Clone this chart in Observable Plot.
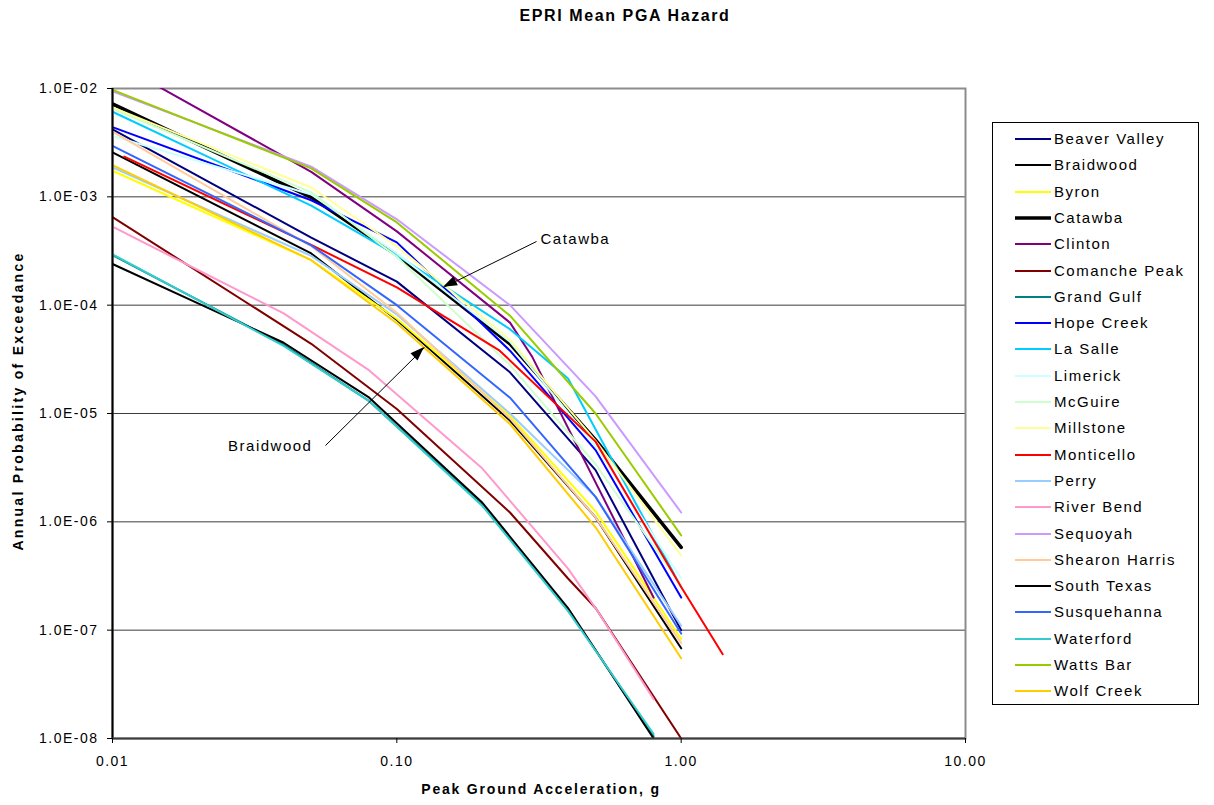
<!DOCTYPE html>
<html><head><meta charset="utf-8">
<script src="https://cdn.jsdelivr.net/npm/d3@7"></script>
<script src="https://cdn.jsdelivr.net/npm/@observablehq/plot@0.6"></script>
<style>
body{margin:0;background:#fff;font-family:"Liberation Sans",Arial,sans-serif;}
#wrap{position:relative;width:1214px;height:805px;overflow:hidden;background:#fff;}
#chart{position:absolute;left:0;top:0;}
.lbl{position:absolute;font-weight:bold;color:#000;white-space:nowrap;}
#title{left:0;width:1250px;top:7px;text-align:center;font-size:16px;letter-spacing:1.6px;}
#xlabel{left:0;width:1082px;top:781px;text-align:center;font-size:14px;letter-spacing:1.8px;}
#ylabel{left:18px;top:401px;font-size:14px;letter-spacing:2.3px;transform:translate(-50%,-50%) rotate(-90deg);}
#legend{position:absolute;left:992px;top:122px;width:207px;height:583px;border:1px solid #000;background:#fff;box-sizing:border-box;}
.item{position:absolute;left:0;height:20px;font-size:15px;letter-spacing:1.5px;color:#000;white-space:nowrap;}
.item svg{position:absolute;left:22px;top:0;}
.item span{position:absolute;left:61px;top:1px;line-height:18px;}
svg text{letter-spacing:1.5px;}
</style></head><body>
<div id="wrap">
<div id="chart"></div>
<div id="title" class="lbl">EPRI Mean PGA Hazard</div>
<div id="xlabel" class="lbl">Peak Ground Acceleration, g</div>
<div id="ylabel" class="lbl">Annual Probability of Exceedance</div>
<div id="legend"></div>
</div>
<script>
// ---- data: [PGA (g), annual probability of exceedance] ----
const beaverValley  = [[0.01,4.2e-3],[0.05,4.2e-4],[0.1,1.65e-4],[0.25,2.4e-5],[0.5,3.0e-6],[1.0,1.0e-7]];
const braidwood     = [[0.01,2.57e-3],[0.05,3.0e-4],[0.1,7.3e-5],[0.25,8.6e-6],[0.5,1.1e-6],[1.0,6.8e-8]];
const byron         = [[0.01,1.74e-3],[0.05,2.6e-4],[0.1,7.5e-5],[0.25,9.5e-6],[0.5,1.25e-6],[1.0,8.3e-8]];
const catawba       = [[0.01,7.2e-3],[0.05,9.9e-4],[0.1,2.9e-4],[0.25,4.4e-5],[0.5,5.7e-6],[1.0,5.8e-7]];
const clinton       = [[0.01,1.8e-2],[0.05,1.7e-3],[0.1,4.8e-4],[0.25,6.9e-5],[0.3,3.3e-5],[0.8,2.0e-7]];
const comanchePeak  = [[0.01,6.5e-4],[0.05,4.4e-5],[0.1,1.1e-5],[0.25,1.22e-6],[0.4,3.0e-7],[0.5,1.6e-7],[1.0,1.0e-8]];
const grandGulf     = [[0.01,2.9e-4],[0.04,4.3e-5],[0.08,1.3e-5],[0.2,1.45e-6],[0.4,1.55e-7],[0.8,1.05e-8]];
const hopeCreek     = [[0.01,4.4e-3],[0.05,9.3e-4],[0.1,3.8e-4],[0.25,3.8e-5],[0.5,4.6e-6],[1.0,2.0e-7]];
const laSalle       = [[0.01,6.1e-3],[0.05,8.3e-4],[0.1,2.9e-4],[0.25,6.0e-5],[0.4,2.1e-5],[1.0,2.5e-7]];
const limerick      = [[0.01,3.65e-3],[0.05,1.05e-3],[0.1,3.0e-4],[0.25,4.6e-5],[0.5,5.0e-6],[1.0,3.0e-7]];
const mcGuire       = [[0.01,6.5e-3],[0.05,1.1e-3],[0.1,2.8e-4],[0.25,2.8e-5],[0.5,3.4e-6],[1.0,2.6e-7]];
const millstone     = [[0.01,6.7e-3],[0.05,1.22e-3],[0.1,3.5e-4],[0.25,4.8e-5],[0.5,5.6e-6],[1.0,4.9e-7]];
const monticello    = [[0.011,2.35e-3],[0.05,3.6e-4],[0.1,1.46e-4],[0.23,3.8e-5],[0.5,5.5e-6],[1.0,2.5e-7],[1.4,6.0e-8]];
const perry         = [[0.01,1.87e-3],[0.05,2.85e-4],[0.1,8.2e-5],[0.25,1.0e-5],[0.5,1.7e-6],[1.0,1.1e-7]];
const riverBend     = [[0.01,5.3e-4],[0.04,8.4e-5],[0.08,2.5e-5],[0.2,3.1e-6],[0.4,3.7e-7],[0.5,1.6e-7],[0.8,2.3e-8]];
const sequoyah      = [[0.01,9.4e-3],[0.05,1.9e-3],[0.1,6.2e-4],[0.25,1.0e-4],[0.5,1.44e-5],[1.0,1.22e-6]];
const shearonHarris = [[0.01,4.0e-3],[0.05,3.5e-4],[0.1,8.5e-5],[0.25,9.0e-6],[0.5,1.1e-6],[1.0,7.6e-8]];
const southTexas    = [[0.01,2.4e-4],[0.04,4.5e-5],[0.08,1.4e-5],[0.2,1.5e-6],[0.4,1.6e-7],[0.8,1.0e-8]];
const susquehanna   = [[0.01,2.96e-3],[0.05,3.56e-4],[0.1,1.0e-4],[0.25,1.4e-5],[0.5,1.7e-6],[1.0,9.3e-8]];
const waterford     = [[0.01,2.95e-4],[0.04,4.2e-5],[0.08,1.3e-5],[0.2,1.4e-6],[0.4,1.5e-7],[0.8,1.1e-8]];
const wattsBar      = [[0.01,9.7e-3],[0.05,1.83e-3],[0.1,5.8e-4],[0.25,8.0e-5],[0.5,1.0e-5],[1.0,7.5e-7]];
const wolfCreek     = [[0.01,1.96e-3],[0.05,2.6e-4],[0.1,6.8e-5],[0.25,8.0e-6],[0.5,8.9e-7],[1.0,5.5e-8]];

const plantNames = ["Beaver Valley","Braidwood","Byron","Catawba","Clinton","Comanche Peak","Grand Gulf","Hope Creek","La Salle","Limerick","McGuire","Millstone","Monticello","Perry","River Bend","Sequoyah","Shearon Harris","South Texas","Susquehanna","Waterford","Watts Bar","Wolf Creek"];
const plantSeries = [beaverValley,braidwood,byron,catawba,clinton,comanchePeak,grandGulf,hopeCreek,laSalle,limerick,mcGuire,millstone,monticello,perry,riverBend,sequoyah,shearonHarris,southTexas,susquehanna,waterford,wattsBar,wolfCreek];
const plantColors = ["#000080","#000000","#FFFF00","#000000","#800080","#800000","#008080","#0000FF","#00CCFF","#CCFFFF","#CCFFCC","#FFFF99","#FF0000","#99CCFF","#FF99CC","#CC99FF","#FFCC99","#000000","#3366FF","#33CCCC","#99CC00","#FFCC00"];
const plantWidths = plantNames.map(n => n === "Catawba" ? 3.5 : 2);

const xTicks = [0.01, 0.1, 1, 10];
const yTicks = [1e-8, 1e-7, 1e-6, 1e-5, 1e-4, 1e-3, 1e-2];

// annotations: label, label anchor (g, p), text anchor, arrow tail (g, p), arrow tip (g, p)
const annoText   = ["Catawba", "Braidwood"];
const annoLabel  = [[0.32, 4.1e-4], [0.0505, 4.95e-6]];
const annoAnchor = ["start", "end"];
const annoTail   = [[0.31, 3.87e-4], [0.0561, 5.06e-6]];
const annoTip    = [[0.146, 1.46e-4], [0.1251, 4.06e-5]];

const fmtY = d => { const e = Math.round(Math.log10(d)); return "1.0E" + (e < 0 ? "-" : "+") + String(Math.abs(e)).padStart(2, "0"); };
const fmtX = d3.format(".2f");

const lineMarks = plantNames.map((name, i) =>
  Plot.line(plantSeries[i].map(([g, p]) => ({plant: name, g, p})),
    {x: "g", y: "p", stroke: plantColors[i], strokeWidth: plantWidths[i], clip: true, strokeLinejoin: "miter"})
);

const annoRows = annoText.map((t, i) => ({t, lx: annoLabel[i][0], ly: annoLabel[i][1], anchor: annoAnchor[i],
  x1: annoTail[i][0], y1: annoTail[i][1], x2: annoTip[i][0], y2: annoTip[i][1]}));

const plot = Plot.plot({
  width: 1214, height: 805,
  marginLeft: 112, marginRight: 249, marginTop: 88, marginBottom: 67,
  style: {fontFamily: "'Liberation Sans', Arial, sans-serif", fontSize: "14px", color: "#000", background: "#fff"},
  x: {type: "log", domain: [0.01, 10]},
  y: {type: "log", domain: [1e-8, 1e-2]},
  marks: [
    Plot.ruleY(yTicks, {stroke: "#3c3c3c", strokeWidth: 1}),
    Plot.frame({stroke: "#8c8c8c", strokeWidth: 2}),
    ...lineMarks,
    Plot.ruleX([0.01], {stroke: "#000", strokeWidth: 2}),
    Plot.ruleY([1e-8], {stroke: "#3c3c3c", strokeWidth: 2}),
    Plot.axisX({ticks: xTicks, tickFormat: fmtX, tickSize: 5, tickPadding: 13, label: null, fontSize: 14}),
    Plot.axisY({ticks: yTicks, tickFormat: fmtY, tickSize: 5, tickPadding: 9, label: null, fontSize: 14}),
    Plot.link(annoRows, {x1: "x1", y1: "y1", x2: "x2", y2: "y2", stroke: "#000", strokeWidth: 1}),
    Plot.text(annoRows.filter(d => d.anchor === "start"), {x: "lx", y: "ly", text: "t", textAnchor: "start", fontSize: 15, fill: "#000"}),
    Plot.text(annoRows.filter(d => d.anchor === "end"), {x: "lx", y: "ly", text: "t", textAnchor: "end", fontSize: 15, fill: "#000"})
  ]
});
document.getElementById("chart").appendChild(plot);

// filled arrowheads positioned through the plot's own scales
const sx = plot.scale("x"), sy = plot.scale("y");
const svg = d3.select(plot);
annoRows.forEach(d => {
  const x1 = sx.apply(d.x1), y1 = sy.apply(d.y1), x2 = sx.apply(d.x2), y2 = sy.apply(d.y2);
  const a = Math.atan2(y2 - y1, x2 - x1), L = 14, W = 5;
  const bx = x2 - L * Math.cos(a), by = y2 - L * Math.sin(a);
  const px = -Math.sin(a) * W, py = Math.cos(a) * W;
  svg.append("polygon").attr("points", `${x2},${y2} ${bx+px},${by+py} ${bx-px},${by-py}`).attr("fill", "#000");
});

// legend
const legend = document.getElementById("legend");
plantNames.forEach((name, i) => {
  const row = document.createElement("div");
  row.className = "item";
  row.style.top = (16 + i * 26.3 - 10) + "px";
  row.innerHTML = `<svg width="36" height="20"><line x1="0" x2="36" y1="10" y2="10" stroke="${plantColors[i]}" stroke-width="${plantWidths[i]}"/></svg><span>${name}</span>`;
  legend.appendChild(row);
});
</script>
</body></html>
